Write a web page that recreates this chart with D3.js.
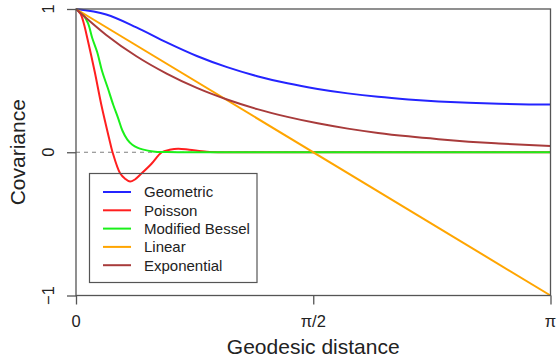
<!DOCTYPE html>
<html><head><meta charset="utf-8">
<script src="https://cdn.jsdelivr.net/npm/d3@7"></script>
<style>body{margin:0;background:#fff}svg{display:block}text{font-family:"Liberation Sans",Arial,Helvetica,sans-serif;fill:#222}</style>
</head><body>
<script>
// ---- data ----
const seriesNames = ["Geometric","Poisson","Modified Bessel","Linear","Exponential"];
const seriesColors = ["#2424ff","#ff1f1f","#1af01a","#ffa500","#a83b3b"];
const thetaGrid = [0,0.2,0.4,0.6,0.8,1.0,1.2,1.4,1.6,1.8,2.0,2.2,2.4,2.6,2.8,3.0,3.1416];
const geometric = [1,0.962,0.872,0.767,0.672,0.594,0.531,0.481,0.442,0.411,0.387,0.369,0.355,0.345,0.338,0.334,0.333];
const exponential = [1,0.819,0.670,0.549,0.449,0.368,0.301,0.247,0.202,0.165,0.135,0.111,0.091,0.074,0.061,0.050,0.043];
const poissonTheta = [0,0.031,0.053,0.075,0.124,0.168,0.219,0.242,0.292,0.325,0.358,0.39,0.435,0.50,0.568,0.62,0.676,0.75,0.866,1.0,1.5,3.1416];
const poisson = [1,0.965,0.893,0.796,0.562,0.33,0.098,0,-0.147,-0.185,-0.205,-0.19,-0.147,-0.08,0,0.017,0.025,0.018,0.004,0,0,0];
const besselTheta = [0,0.05,0.08,0.108,0.14,0.174,0.21,0.247,0.28,0.307,0.34,0.373,0.41,0.44,0.51,0.6,0.8,1.5,3.1416];
const bessel = [1,0.956,0.9,0.796,0.70,0.562,0.45,0.33,0.235,0.152,0.088,0.052,0.03,0.02,0.006,0.001,0,0,0];
const linearTheta = [0,3.1416];
const linear = [1,-1];
const yTicks = [1,0,-1];
const yTickLabels = ["1","0","\u22121"];
const xTicks = [0,Math.PI/2,Math.PI];
const xTickLabels = ["0","\u03c0/2","\u03c0"];

const W=557,H=359;
const svg=d3.select("body").append("svg").attr("width",W).attr("height",H);
const x=d3.scaleLinear().domain([0,Math.PI]).range([76,550.5]);
const y=d3.scaleLinear().domain([-1,1]).range([295.5,9]);
const axisCol="#555";

// zero dashed line
svg.append("line").attr("x1",x(0)).attr("x2",x(Math.PI)).attr("y1",y(0)).attr("y2",y(0))
  .attr("stroke","#808080").attr("stroke-width",1.2).attr("stroke-dasharray","4,4");

const lineM=d3.line().x(d=>x(d[0])).y(d=>y(d[1])).curve(d3.curveMonotoneX);
const lineC=d3.line().x(d=>x(d[0])).y(d=>y(d[1])).curve(d3.curveCatmullRom.alpha(0.5));
const data=[
  d3.zip(thetaGrid,geometric),
  d3.zip(poissonTheta,poisson),
  d3.zip(besselTheta,bessel),
  d3.zip(linearTheta,linear),
  d3.zip(thetaGrid,exponential)
];
const gens=[lineM,lineC,lineC,lineM,lineM];
[0,1,2,3,4].forEach(i=>{
  svg.append("path").datum(data[i]).attr("d",gens[i]).attr("fill","none")
    .attr("stroke",seriesColors[i]).attr("stroke-width",2);
});

// frame
svg.append("rect").attr("x",x(0)).attr("y",y(1)).attr("width",x(Math.PI)-x(0)).attr("height",y(-1)-y(1))
  .attr("fill","none").attr("stroke",axisCol).attr("stroke-width",1.3);

// y axis ticks
const yAxis=d3.axisLeft(y).tickValues(yTicks).tickSize(9).tickFormat("");
const gy=svg.append("g").attr("transform",`translate(${x(0)},0)`).call(yAxis);
gy.select(".domain").remove();
gy.selectAll("line").attr("stroke",axisCol).attr("stroke-width",1.3);
yTicks.forEach((v,i)=>{
  svg.append("text").attr("transform",`translate(54,${y(v)}) rotate(-90)`)
    .attr("text-anchor","middle").attr("font-size",16.5).text(yTickLabels[i]);
});
// x axis ticks
const xAxis=d3.axisBottom(x).tickValues(xTicks).tickSize(9).tickFormat("");
const gx=svg.append("g").attr("transform",`translate(0,${y(-1)})`).call(xAxis);
gx.select(".domain").remove();
gx.selectAll("line").attr("stroke",axisCol).attr("stroke-width",1.3);
xTicks.forEach((v,i)=>{
  svg.append("text").attr("x",x(v)).attr("y",327).attr("text-anchor","middle")
    .attr("font-size",16.5).text(xTickLabels[i]);
});

// titles
svg.append("text").attr("x",x(Math.PI/2)).attr("y",354).attr("text-anchor","middle")
  .attr("font-size",21).text("Geodesic distance");
svg.append("text").attr("transform",`translate(25,${y(0)}) rotate(-90)`).attr("text-anchor","middle")
  .attr("font-size",21).text("Covariance");

// legend
svg.append("rect").attr("x",89.5).attr("y",173.5).attr("width",167.5).attr("height",109)
  .attr("fill","none").attr("stroke",axisCol).attr("stroke-width",1.2);
seriesNames.forEach((n,i)=>{
  const ly=192+i*18.3;
  svg.append("line").attr("x1",103).attr("x2",131).attr("y1",ly).attr("y2",ly)
    .attr("stroke",seriesColors[i]).attr("stroke-width",2);
  svg.append("text").attr("x",144).attr("y",ly).attr("dy","0.36em").attr("font-size",15).text(n);
});
</script>
</body></html>
